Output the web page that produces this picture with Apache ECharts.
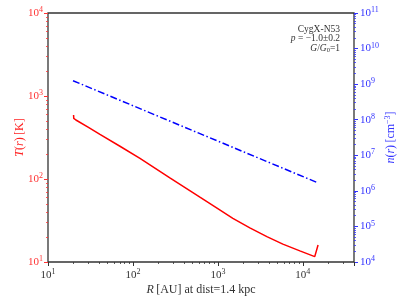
<!DOCTYPE html>
<html>
<head>
<meta charset="utf-8">
<script src="https://cdn.jsdelivr.net/npm/echarts@6/dist/echarts.min.js"></script>
<style>html,body{margin:0;padding:0;background:#fff}#c{width:407px;height:305px}</style>
</head>
<body>
<div id="c"></div>
<script>
// Radius (AU) and temperature (K) of the red curve
var tempR = [20, 20.1, 21.3, 29.6, 40.9, 70.3, 121, 272, 614, 946, 1500, 2377, 3770, 5816, 9220, 13800, 15100];
var tempT = [590, 537, 514, 421, 344, 248, 177, 103, 60.3, 45.4, 33.6, 25.8, 20.2, 16.4, 13.6, 11.6, 16.0];
// Radius (AU) and density (cm^-3) of the blue curve
var densR = [19.7, 14700];
var densN = [1.25e9, 1.72e6];
// Axis ranges
var xRange = [10, 40000];
var tRange = [10, 10000];
var nRange = [1e4, 1e11];
// Annotation lines
var annot = ['CygX-N53', '{i|p} = \u22121.0\u00b10.2', '{i|G}/{i|G}{sub|0}=1'];

var FONT = 'Liberation Serif';
function pow10(v) {
  var n = Math.round(Math.log(v) / Math.LN10);
  return '10{s|' + n + '}';
}
function rich(color) {
  return {
    s: {fontSize: 8, fontFamily: FONT, color: color, verticalAlign: 'bottom', padding: [0, 0, 6, 0]}
  };
}
var chart = echarts.init(document.getElementById('c'), null, {renderer: 'canvas'});
var tempData = tempR.map(function (r, i) { return [r, tempT[i]]; });
var densData = densR.map(function (r, i) { return [r, densN[i]]; });

chart.setOption({
  animation: false,
  grid: {left: 48, right: 53, top: 13, bottom: 43, show: true, borderColor: '#333', borderWidth: 1.3, backgroundColor: 'transparent'},
  xAxis: {
    type: 'log', logBase: 10, min: xRange[0], max: xRange[1], interval: 1,
    name: '{i|R}\u2009[AU] at dist=1.4 kpc', nameLocation: 'middle', nameGap: 22, nameMoveOverlap: false,
    nameTextStyle: {fontFamily: FONT, fontSize: 12, color: '#333', rich: {i: {fontStyle: 'italic', fontFamily: FONT, fontSize: 12, color: '#333'}}},
    axisLine: {show: false},
    axisTick: {show: true, length: 4, lineStyle: {color: '#333', width: 1}},
    minorTick: {show: true, splitNumber: 9, length: 2, lineStyle: {color: '#333', width: 0.8}},
    splitLine: {show: false},
    axisLabel: {fontFamily: FONT, fontSize: 11, color: '#333', margin: 6, showMaxLabel: false, formatter: pow10, rich: rich('#333')}
  },
  yAxis: [{
    type: 'log', logBase: 10, min: tRange[0], max: tRange[1], interval: 1, position: 'left',
    name: '{i|T}({i|r})\u2009[K]', nameLocation: 'middle', nameGap: 22, nameMoveOverlap: false,
    nameTextStyle: {fontFamily: FONT, fontSize: 12, color: '#ff2222', rich: {i: {fontStyle: 'italic', fontFamily: FONT, fontSize: 12, color: '#ff2222'}}},
    axisLine: {show: false},
    axisTick: {show: true, length: 4, lineStyle: {color: '#ff3333', width: 1}},
    minorTick: {show: true, splitNumber: 9, length: 2, lineStyle: {color: '#ff3333', width: 0.8}},
    splitLine: {show: false},
    axisLabel: {fontFamily: FONT, fontSize: 11, color: '#ff3333', margin: 5, formatter: pow10, rich: rich('#ff3333')}
  }, {
    type: 'log', logBase: 10, min: nRange[0], max: nRange[1], interval: 1, position: 'right',
    name: '{i|n}({i|r})\u2009[cm{s|\u22123}]', nameLocation: 'middle', nameGap: 30, nameRotate: 90, nameMoveOverlap: false,
    nameTextStyle: {fontFamily: FONT, fontSize: 12, color: '#3333ff', rich: {i: {fontStyle: 'italic', fontFamily: FONT, fontSize: 12, color: '#3333ff'}, s: {fontSize: 8, fontFamily: FONT, color: '#3333ff', verticalAlign: 'bottom', padding: [0, 0, 6, 0]}}},
    axisLine: {show: false},
    axisTick: {show: true, length: 4, lineStyle: {color: '#3333ff', width: 1}},
    minorTick: {show: true, splitNumber: 9, length: 2, lineStyle: {color: '#3333ff', width: 0.8}},
    splitLine: {show: false},
    axisLabel: {fontFamily: FONT, fontSize: 11, color: '#3333ff', margin: 6, formatter: pow10, rich: rich('#3333ff')}
  }],
  series: [{
    type: 'line', yAxisIndex: 0, data: tempData, showSymbol: false, smooth: false,
    lineStyle: {color: '#ff0000', width: 1.5}
  }, {
    type: 'line', yAxisIndex: 1, data: densData, showSymbol: false,
    lineStyle: {color: '#0000ff', width: 1.5, type: [7, 2.5, 1.5, 2.5]}
  }],
  graphic: annot.map(function (t, i) {
    return {
      type: 'text', x: 340, y: 29 + i * 9.5,
      style: {
        text: t, align: 'right', verticalAlign: 'middle', fontFamily: FONT, fontSize: 9.5, fill: '#333',
        rich: {
          i: {fontStyle: 'italic', fontFamily: FONT, fontSize: 9.5, color: '#333'},
          sub: {fontFamily: FONT, fontSize: 6.5, color: '#333', verticalAlign: 'top', padding: [4, 0, 0, 0]}
        }
      }
    };
  })
});
</script>
</body>
</html>
